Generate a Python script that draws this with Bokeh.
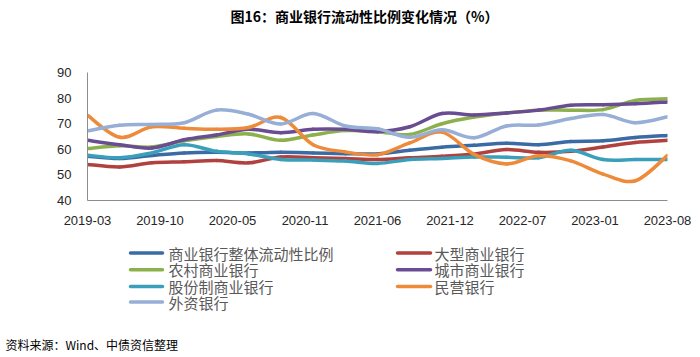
from bokeh.plotting import figure
from bokeh.layouts import column
from bokeh.models import Range1d, FixedTicker, Title
from bokeh.core.properties import value
from bokeh.embed import file_html
from bokeh.resources import INLINE

# ---- data (quarterly observations, %) ----
x_tick_labels = ["2019-03", "2019-10", "2020-05", "2020-11", "2021-06",
                 "2021-12", "2022-07", "2023-01", "2023-08"]
n_points = 19

overall = [57.3, 56.4, 57.6, 58.6, 58.8, 58.6, 58.8, 58.6, 58.3, 58.2,
           59.6, 60.8, 61.6, 62.4, 61.8, 63.0, 63.3, 64.6, 65.4]
large = [54.1, 53.1, 54.7, 55.1, 55.6, 54.7, 57.0, 56.7, 56.4, 56.0,
         56.7, 57.3, 58.2, 59.9, 58.8, 59.2, 60.9, 62.7, 63.5]
rural = [60.3, 61.4, 60.9, 63.3, 65.0, 66.0, 63.5, 65.6, 67.3, 66.9,
         65.8, 70.0, 72.6, 74.2, 75.3, 75.3, 75.5, 79.1, 79.7]
city = [63.5, 61.8, 60.5, 63.7, 65.6, 67.8, 66.5, 67.8, 67.8, 66.9,
        68.8, 74.0, 73.4, 74.2, 75.3, 77.2, 77.4, 77.8, 78.5]
joint = [57.7, 56.7, 58.6, 61.8, 59.2, 58.2, 56.0, 55.8, 55.4, 54.5,
         56.0, 56.4, 57.0, 56.9, 56.7, 59.6, 56.0, 56.0, 56.0]
private = [73.3, 64.7, 68.8, 68.2, 67.8, 68.5, 72.4, 61.8, 59.0, 57.9,
           62.5, 66.7, 58.0, 54.3, 57.5, 55.5, 50.3, 47.7, 57.6]
foreign = [67.2, 69.4, 69.7, 70.4, 75.3, 73.7, 69.9, 74.0, 69.1, 68.0,
           64.7, 67.6, 64.5, 69.1, 69.5, 72.0, 73.6, 70.4, 72.7]

series_names = ["商业银行整体流动性比例", "大型商业银行", "农村商业银行", "城市商业银行",
                "股份制商业银行", "民营银行", "外资银行"]
series_values = [overall, large, rural, city, joint, private, foreign]
colors = ["#3B6BA5", "#B0413E", "#8CB04C", "#6A4C93", "#3A9FBA", "#EE8B3A", "#97AED6"]

title_text = "图16：商业银行流动性比例变化情况（%）"
source_text = "资料来源：Wind、中债资信整理"

FONT = "Liberation Sans"
CJK = "Noto Sans CJK SC"
LEFT, RIGHT = 87, 33
LW = 3.5

xs = list(range(n_points))


def blank_panel(height, y_top, y_bottom, border_bottom=0):
    f = figure(width=700, height=height, output_backend="svg", toolbar_location=None,
               x_range=Range1d(LEFT, 700 - RIGHT), y_range=Range1d(y_bottom, y_top),
               x_axis_type=None, y_axis_type=None,
               min_border_left=LEFT, min_border_right=RIGHT,
               min_border_top=0, min_border_bottom=border_bottom)
    f.outline_line_color = None
    f.background_fill_color = "white"
    f.border_fill_color = "white"
    return f


# ---------------- title strip ----------------
h = blank_panel(30, 0, 30)
h.text(x=[364], y=[15], text=[title_text], text_font=value(CJK), text_font_size="14px",
       text_font_style="bold", text_color="#000000", text_baseline="middle", text_align="center")

# ---------------- main chart ----------------
p = figure(width=700, height=202, output_backend="svg", toolbar_location=None,
           x_range=Range1d(0, n_points - 1), y_range=Range1d(40, 90),
           min_border_left=LEFT, min_border_right=RIGHT, min_border_top=42, min_border_bottom=32)
p.background_fill_color = "white"
p.border_fill_color = "white"
p.outline_line_color = None
p.xgrid.visible = False
p.ygrid.visible = False

p.xaxis.ticker = FixedTicker(ticks=[i * (n_points - 1) / 8 for i in range(9)])
p.xaxis.major_label_overrides = {i * (n_points - 1) / 8: lab for i, lab in enumerate(x_tick_labels)}
p.yaxis.ticker = FixedTicker(ticks=[40, 50, 60, 70, 80, 90])
for ax in (p.xaxis, p.yaxis):
    ax.axis_line_color = "#8C8C8C"
    ax.axis_line_width = 1
    ax.major_tick_line_color = None
    ax.minor_tick_line_color = None
    ax.major_label_text_font = FONT
    ax.major_label_text_font_size = "13px"
    ax.major_label_text_color = "#262626"
p.xaxis.major_label_standoff = 9
p.yaxis.major_label_standoff = 10


def smooth_segments(x, y):
    x0, y0, x1, y1, cx0, cy0, cx1, cy1 = [], [], [], [], [], [], [], []
    n = len(x)
    for i in range(n - 1):
        xa, ya = x[max(i - 1, 0)], y[max(i - 1, 0)]
        xb, yb = x[i], y[i]
        xc, yc = x[i + 1], y[i + 1]
        xd, yd = x[min(i + 2, n - 1)], y[min(i + 2, n - 1)]
        x0.append(xb); y0.append(yb); x1.append(xc); y1.append(yc)
        cx0.append(xb + (xc - xa) / 6.0); cy0.append(yb + (yc - ya) / 6.0)
        cx1.append(xc - (xd - xb) / 6.0); cy1.append(yc - (yd - yb) / 6.0)
    return dict(x0=x0, y0=y0, x1=x1, y1=y1, cx0=cx0, cy0=cy0, cx1=cx1, cy1=cy1)


for name, vals, col in zip(series_names, series_values, colors):
    seg = smooth_segments(xs, vals)
    p.bezier(x0=seg["x0"], y0=seg["y0"], x1=seg["x1"], y1=seg["y1"],
             cx0=seg["cx0"], cy0=seg["cy0"], cx1=seg["cx1"], cy1=seg["cy1"],
             line_color=col, line_width=LW, line_cap="round")

# ---------------- legend + source strip (canvas y 232..357) ----------------
q = blank_panel(125, 232, 330, border_bottom=27)

left_items = [0, 2, 4, 6]
right_items = [1, 3, 5]
row_y = [253, 270, 287, 303]
sw_x0, sw_x1, tx, sw_y, names, cols = [], [], [], [], [], []
for k, i in enumerate(left_items):
    sw_x0.append(130); sw_x1.append(162); tx.append(168)
    sw_y.append(row_y[k]); names.append(series_names[i]); cols.append(colors[i])
for k, i in enumerate(right_items):
    sw_x0.append(397); sw_x1.append(430); tx.append(434)
    sw_y.append(row_y[k]); names.append(series_names[i]); cols.append(colors[i])

q.segment(x0=sw_x0, y0=sw_y, x1=sw_x1, y1=sw_y, line_color=cols, line_width=LW, line_cap="round")
q.text(x=tx, y=sw_y, text=names, text_font=value(CJK), text_font_size="15px",
       text_color="#595959", text_baseline="middle", text_align="left")

q.add_layout(Title(text=source_text, align="left", offset=-82,
                   text_font=CJK, text_font_size="12px", text_font_style="normal",
                   text_color="#000000"), "below")

layout = column(h, p, q, spacing=0)
open("out.html", "w").write(file_html(layout, INLINE))
